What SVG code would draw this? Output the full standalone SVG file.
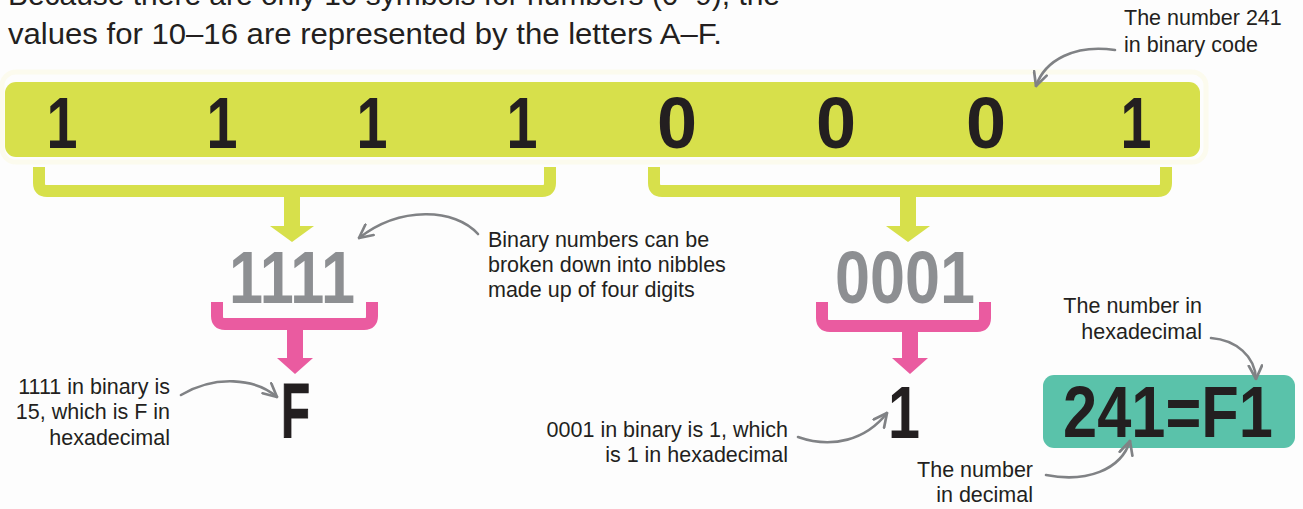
<svg xmlns="http://www.w3.org/2000/svg" width="1303" height="509" viewBox="0 0 1303 509">
<defs>
<style>
.hdr{font-family:"Liberation Sans",Arial,sans-serif;font-size:30px;fill:#231f20}
.lbl{font-family:"Liberation Sans",Arial,sans-serif;font-size:21.5px;fill:#231f20}
.big{font-family:"Liberation Sans",Arial,sans-serif;font-weight:bold;fill:#231f20}
.bit{font-size:72px;text-anchor:middle}
.nib{font-size:74px;fill:#8d8f92}
.hvy{stroke:#231f20;stroke-width:1.2}
.gb{fill:none;stroke:#d7e04b;stroke-width:12}
.pb{fill:none;stroke:#ea5ba0;stroke-width:12}
.ga{fill:#d7e04b}
.pa{fill:#ea5ba0}
.call{fill:none;stroke:#808285;stroke-width:2.6;stroke-linecap:round;marker-end:url(#ah)}
</style>
<marker id="ah" viewBox="0 0 12 12" refX="11" refY="6" markerWidth="16" markerHeight="16" markerUnits="userSpaceOnUse" orient="auto">
<path d="M1,1 L11,6 L1,11" fill="none" stroke="#808285" stroke-width="2" stroke-linecap="round" stroke-linejoin="round"/>
</marker>
</defs>
<rect width="1303" height="509" fill="#fdfdfd"/>

<g id="header">
<text class="hdr" x="8" y="5" textLength="772" lengthAdjust="spacingAndGlyphs">Because there are only 10 symbols for numbers (0–9), the</text>
<text class="hdr" x="8" y="44" textLength="714" lengthAdjust="spacingAndGlyphs">values for 10–16 are represented by the letters A–F.</text>
</g>

<g id="binary-bar">
<rect x="2" y="72" width="1204" height="90" rx="14" fill="none" stroke="#fcfbee" stroke-width="5"/>
<rect x="5" y="82" width="1195" height="75" rx="11" fill="#d7e04b"/>
<text class="big bit" x="62" y="148" textLength="31" lengthAdjust="spacingAndGlyphs">1</text>
<text class="big bit" x="222" y="148" textLength="31" lengthAdjust="spacingAndGlyphs">1</text>
<text class="big bit" x="372" y="148" textLength="31" lengthAdjust="spacingAndGlyphs">1</text>
<text class="big bit" x="522" y="148" textLength="31" lengthAdjust="spacingAndGlyphs">1</text>
<text class="big bit" x="677" y="148">0</text>
<text class="big bit" x="836" y="148">0</text>
<text class="big bit" x="986" y="148">0</text>
<text class="big bit" x="1136" y="148" textLength="31" lengthAdjust="spacingAndGlyphs">1</text>
</g>

<g id="nibble-1111">
<text class="big nib" x="229" y="303" textLength="126" lengthAdjust="spacingAndGlyphs">1111</text>
</g>
<g id="nibble-0001">
<text class="big nib" x="835" y="303" textLength="140" lengthAdjust="spacingAndGlyphs">0001</text>
</g>
<g id="hex-F">
<text class="big hvy" x="281" y="438" font-size="77" textLength="29" lengthAdjust="spacingAndGlyphs">F</text>
</g>
<g id="hex-1">
<text class="big" x="904" y="438" font-size="74" text-anchor="middle" textLength="32" lengthAdjust="spacingAndGlyphs">1</text>
</g>
<g id="result">
<rect x="1043" y="375" width="252" height="73" rx="11" fill="#5ac2aa"/>
<text class="big" x="1063" y="437" font-size="73" textLength="210" lengthAdjust="spacingAndGlyphs">241=F1</text>
</g>

<g id="connectors">
<path class="gb" d="M39,167 V183 Q39,191 47,191 H542 Q550,191 550,183 V167"/>
<rect class="ga" x="284" y="190" width="16" height="38"/>
<polygon class="ga" points="270,226 314,226 292,242"/>
<path class="gb" d="M654,167 V183 Q654,191 662,191 H1158 Q1166,191 1166,183 V167"/>
<rect class="ga" x="900" y="190" width="16" height="38"/>
<polygon class="ga" points="886,226 930,226 908,242"/>

<path class="pb" d="M217,302 V316 Q217,324 225,324 H364 Q372,324 372,316 V302"/>
<rect class="pa" x="287" y="323" width="16" height="37"/>
<polygon class="pa" points="277,358 313,358 295,374"/>
<path class="pb" d="M822,302 V318 Q822,326 830,326 H977 Q985,326 985,318 V302"/>
<rect class="pa" x="902" y="325" width="16" height="35"/>
<polygon class="pa" points="892,358 928,358 910,374"/>

<path class="call" d="M1115,50 C1075,44 1045,60 1036,86"/>
<path class="call" d="M478,234 C455,208 400,206 359,238"/>
<path class="call" d="M181,395 C215,375 255,378 277,397"/>
<path class="call" d="M798,437 C832,449 866,440 887,413"/>
<path class="call" d="M1211,338 C1236,340 1255,356 1256,379"/>
<path class="call" d="M1046,475 C1086,483 1121,470 1130,441"/>
</g>

<g id="labels">
<text class="lbl" x="1124" y="25">The number 241</text>
<text class="lbl" x="1124" y="52">in binary code</text>
<text class="lbl" x="488" y="247">Binary numbers can be</text>
<text class="lbl" x="488" y="272">broken down into nibbles</text>
<text class="lbl" x="488" y="297">made up of four digits</text>
<text class="lbl" x="170" y="394" text-anchor="end">1111 in binary is</text>
<text class="lbl" x="170" y="419" text-anchor="end">15, which is F in</text>
<text class="lbl" x="170" y="445" text-anchor="end">hexadecimal</text>
<text class="lbl" x="788" y="437" text-anchor="end">0001 in binary is 1, which</text>
<text class="lbl" x="788" y="462" text-anchor="end">is 1 in hexadecimal</text>
<text class="lbl" x="1202" y="313" text-anchor="end">The number in</text>
<text class="lbl" x="1202" y="339" text-anchor="end">hexadecimal</text>
<text class="lbl" x="1033" y="477" text-anchor="end">The number</text>
<text class="lbl" x="1033" y="502" text-anchor="end">in decimal</text>
</g>
</svg>
